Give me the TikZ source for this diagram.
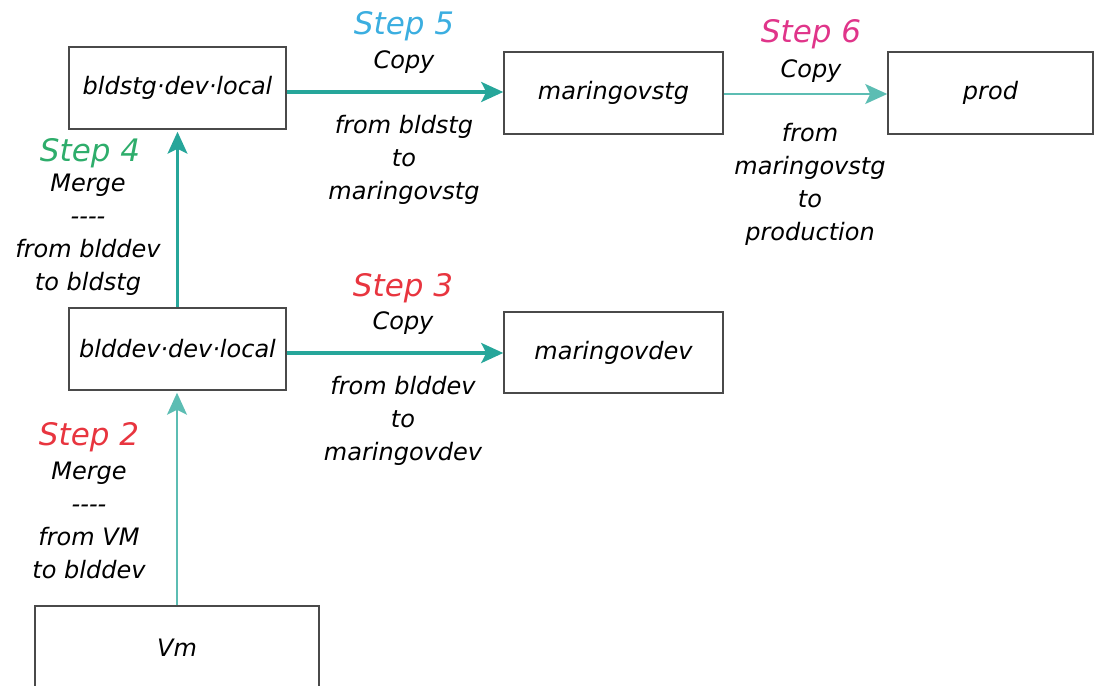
\documentclass[tikz,border=0pt]{standalone}
\usepackage{fontspec}
\newfontfamily\hand{DejaVu Sans Oblique}
\usetikzlibrary{arrows.meta}
\definecolor{tealA}{HTML}{26A69A}
\definecolor{tealL}{HTML}{5CBDB3}
\definecolor{boxgray}{HTML}{4A4A4A}
\definecolor{stepblue}{HTML}{3BAEE0}
\definecolor{stepgreen}{HTML}{2EAD6B}
\definecolor{stepred}{HTML}{E8353F}
\definecolor{steppink}{HTML}{E0358A}
\tikzset{
  box/.style={draw=boxgray, line width=1.5pt, fill=white, inner sep=0pt,
    font=\hand\fontsize{24}{25}\selectfont, text=black},
  lbl/.style={font=\hand\fontsize{24}{33}\selectfont, align=center, inner sep=0pt, text=black},
  steplbl/.style={font=\hand\fontsize{31}{33}\selectfont, inner sep=0pt},
  tip/.style={-{Stealth[length=22pt,width=20pt,inset=5pt]}},
  flowthick/.style={draw=tealA, line width=3.2pt, tip},
  flowmid/.style={draw=tealA, line width=2.2pt, tip},
  flowthin/.style={draw=tealL, line width=1.6pt, tip},
}
\begin{document}
\begin{tikzpicture}[x=1pt,y=-1pt]
\useasboundingbox (0,0) rectangle (1096,686);
% boxes
\node[box, minimum width=217pt, minimum height=82pt] (bldstg) at (177.5,88) {bldstg·dev·local};
\node[box, minimum width=219pt, minimum height=82pt] (mstg) at (613.5,93) {maringovstg};
\node[box, minimum width=205pt, minimum height=82pt] (prod) at (990.5,93) {prod};
\node[box, minimum width=217pt, minimum height=82pt] (blddev) at (177.5,349) {blddev·dev·local};
\node[box, minimum width=219pt, minimum height=81pt] (mdev) at (613.5,352.5) {maringovdev};
\node[box, minimum width=284pt, minimum height=84pt] (vm) at (177,648) {Vm};
% connectors
\draw[flowthick] ([yshift=-4pt]bldstg.east) -- ([yshift=-4pt]bldstg.east -| mstg.west);
\draw[flowthin] ([yshift=-1pt]mstg.east) -- ([yshift=-1pt]prod.west);
\draw[flowthick] ([yshift=-4pt]blddev.east) -- ([yshift=-4pt]blddev.east -| mdev.west);
\draw[flowmid, shorten >=2pt] (blddev.north) -- (bldstg.south);
\draw[flowthin, shorten >=2pt] (vm.north) -- (vm.north |- blddev.south);
% step 5
\node[steplbl, text=stepblue] (s5) at (404,26) {Step 5};
\node[lbl] (s5a) at (404,62) {Copy};
\node[lbl] (s5b) at (404,160) {from bldstg\\to\\maringovstg};
% step 6
\node[steplbl, text=steppink] (s6) at (811,34) {Step 6};
\node[lbl] (s6a) at (811,71) {Copy};
\node[lbl] (s6b) at (810,184) {from\\maringovstg\\to\\production};
% step 4
\node[steplbl, text=stepgreen] (s4) at (90,153) {Step 4};
\node[lbl] (s4b) at (88,235) {Merge\\{-}{-}{-}{-}\\from blddev\\to bldstg};
% step 3
\node[steplbl, text=stepred] (s3) at (403,288) {Step 3};
\node[lbl] (s3a) at (403,323) {Copy};
\node[lbl] (s3b) at (403,421) {from blddev\\to\\maringovdev};
% step 2
\node[steplbl, text=stepred] (s2) at (89,437) {Step 2};
\node[lbl] (s2b) at (89,520) {Merge\\{-}{-}{-}{-}\\from VM\\to blddev};
\end{tikzpicture}
\end{document}
